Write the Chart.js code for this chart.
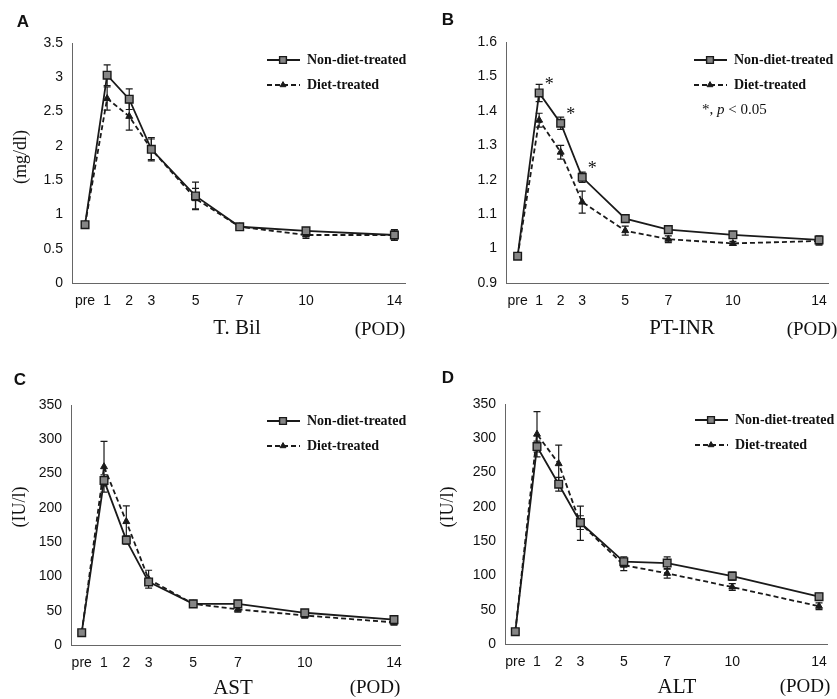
<!DOCTYPE html>
<html>
<head>
<meta charset="utf-8">
<script src="https://cdn.jsdelivr.net/npm/chart.js@4.4.0/dist/chart.umd.min.js"></script>
<style>
  body { margin: 0; background: #fff; }
  #wrap { position: relative; width: 837px; height: 699px; }
  canvas { position: absolute; }
</style>
</head>
<body>
<div id="wrap">
  <canvas id="chartA" width="418" height="349" style="left:0;top:0"></canvas>
  <canvas id="chartB" width="417" height="349" style="left:420px;top:0"></canvas>
  <canvas id="chartC" width="418" height="349" style="left:0;top:350px"></canvas>
  <canvas id="chartD" width="417" height="349" style="left:420px;top:350px"></canvas>
</div>
<script>
// post-operative days, "pre" sits at 0
const days = [0, 1, 2, 3, 5, 7, 10, 14];
const dayLabels = ['pre', '1', '2', '3', '5', '7', '10', '14'];

// A: T. Bil (mg/dl)
const tbilNon = [0.85, 3.03, 2.68, 1.95, 1.27, 0.82, 0.76, 0.70];
const tbilNonErr = [0.04, 0.15, 0.15, 0.17, 0.20, 0.04, 0.04, 0.08];
const tbilDiet = [0.85, 2.69, 2.43, 1.95, 1.23, 0.82, 0.70, 0.70];
const tbilDietErr = [0.04, 0.17, 0.20, 0.15, 0.15, 0.03, 0.05, 0.06];
const tbilTicks = [0, 0.5, 1, 1.5, 2, 2.5, 3, 3.5];

// B: PT-INR
const inrNon = [0.978, 1.452, 1.364, 1.207, 1.087, 1.055, 1.040, 1.025];
const inrNonErr = [0.008, 0.025, 0.018, 0.015, 0.010, 0.008, 0.008, 0.012];
const inrDiet = [0.978, 1.373, 1.280, 1.135, 1.052, 1.027, 1.015, 1.022];
const inrDietErr = [0.008, 0.020, 0.020, 0.032, 0.013, 0.010, 0.006, 0.012];
const inrTicks = [0.9, 1, 1.1, 1.2, 1.3, 1.4, 1.5, 1.6];
const inrStars = [1, 2, 3];

// C: AST (IU/l)
const astNon = [18, 240, 153, 92, 60, 60, 47, 37];
const astNonErr = [3, 8, 6, 5, 4, 5, 4, 4];
const astDiet = [18, 260, 180, 96, 60, 52, 43, 33];
const astDietErr = [3, 37, 23, 13, 5, 4, 4, 4];

// D: ALT (IU/l)
const altNon = [18, 288, 233, 177, 120, 118, 99, 69];
const altNonErr = [3, 8, 10, 10, 7, 9, 6, 5];
const altDiet = [18, 306, 263, 176, 115, 103, 83, 55];
const altDietErr = [3, 33, 27, 25, 8, 7, 5, 5];
const iuTicks = [0, 50, 100, 150, 200, 250, 300, 350];

Chart.defaults.font.family = '"Liberation Sans", Arial, sans-serif';
Chart.defaults.color = '#111';

const SERIF = '"Liberation Serif", "Times New Roman", serif';

// error bars, legend, titles, letters
const decor = {
  id: 'decor',
  beforeDatasetsDraw(chart, args, o) {
    const ctx = chart.ctx, xs = chart.scales.x, ys = chart.scales.y;
    ctx.save();
    ctx.strokeStyle = '#1a1a1a';
    ctx.lineWidth = 1.2;
    chart.data.datasets.forEach(ds => {
      ds.data.forEach((p, i) => {
        const e = ds.err[i];
        const px = xs.getPixelForValue(p.x);
        const top = ys.getPixelForValue(p.y + e);
        const bot = ys.getPixelForValue(p.y - e);
        ctx.beginPath();
        ctx.moveTo(px, top); ctx.lineTo(px, bot);
        ctx.moveTo(px - 3.5, top); ctx.lineTo(px + 3.5, top);
        ctx.moveTo(px - 3.5, bot); ctx.lineTo(px + 3.5, bot);
        ctx.stroke();
      });
    });
    ctx.restore();
  },
  afterDraw(chart, args, o) {
    const ctx = chart.ctx;
    ctx.save();
    ctx.fillStyle = '#111';
    ctx.textAlign = 'center';
    ctx.textBaseline = 'middle';

    ctx.font = 'bold 17px "Liberation Sans", Arial, sans-serif';
    ctx.fillText(o.letter, o.letterX, o.letterY);

    if (o.yTitle) {
      ctx.save();
      ctx.translate(o.yTitleX, o.yTitleY);
      ctx.rotate(-Math.PI / 2);
      ctx.font = '18px ' + SERIF;
      ctx.fillText(o.yTitle, 0, 0);
      ctx.restore();
    }

    ctx.font = '21px ' + SERIF;
    ctx.fillText(o.xTitle, o.xTitleX, o.xTitleY);
    ctx.font = '19px ' + SERIF;
    ctx.fillText('(POD)', o.podX, o.podY);

    // legend
    chart.data.datasets.forEach((ds, i) => {
      const x = o.legendX, y = o.legendY + i * 25;
      ctx.beginPath();
      ctx.setLineDash(ds.borderDash || []);
      ctx.strokeStyle = ds.borderColor;
      ctx.lineWidth = ds.borderWidth;
      ctx.moveTo(x, y); ctx.lineTo(x + 33, y);
      ctx.stroke();
      ctx.setLineDash([]);
      ctx.fillStyle = ds.pointBackgroundColor;
      ctx.strokeStyle = ds.pointBorderColor;
      ctx.lineWidth = ds.pointBorderWidth;
      Chart.helpers.drawPoint(ctx, {
        pointStyle: ds.pointStyle, radius: ds.pointRadius - 0.6,
        rotation: 0, borderWidth: ds.pointBorderWidth
      }, x + 16, y);
      ctx.fillStyle = '#111';
      ctx.textAlign = 'left';
      ctx.font = 'bold 14px ' + SERIF;
      ctx.fillText(ds.label, x + 40, y);
    });

    // significance marks
    if (o.stars) {
      const pts = chart.getDatasetMeta(0).data;
      ctx.font = '18px ' + SERIF;
      ctx.textAlign = 'center';
      o.stars.forEach(i => {
        ctx.fillText('*', pts[i].x + 10, pts[i].y - 8);
      });
    }
    if (o.note) {
      ctx.textAlign = 'left';
      let x = o.noteX;
      ctx.font = '15px ' + SERIF;
      ctx.fillText('*, ', x, o.noteY);
      x += ctx.measureText('*, ').width;
      ctx.font = 'italic 15px ' + SERIF;
      ctx.fillText('p', x, o.noteY);
      x += ctx.measureText('p').width;
      ctx.font = '15px ' + SERIF;
      ctx.fillText(' < 0.05', x, o.noteY);
    }
    ctx.restore();
  }
};

function makePanel(id, non, nonErr, diet, dietErr, yTicks, deco) {
  const toXY = arr => arr.map((v, i) => ({ x: days[i], y: v }));
  const axisBorder = { display: true, color: '#666', width: 1, dash: [1, 2] };
  return new Chart(document.getElementById(id), {
    type: 'line',
    data: {
      datasets: [
        {
          label: 'Non-diet-treated',
          data: toXY(non),
          err: nonErr,
          borderColor: '#1a1a1a',
          borderWidth: 1.8,
          pointStyle: 'rect',
          pointRadius: 5.4,
          pointBackgroundColor: '#858585',
          pointBorderColor: '#1a1a1a',
          pointBorderWidth: 1.4
        },
        {
          label: 'Diet-treated',
          data: toXY(diet),
          err: dietErr,
          borderColor: '#1a1a1a',
          borderDash: [5, 3],
          borderWidth: 1.8,
          pointStyle: 'triangle',
          pointRadius: 4,
          pointBackgroundColor: '#1a1a1a',
          pointBorderColor: '#1a1a1a',
          pointBorderWidth: 1
        }
      ]
    },
    options: {
      responsive: false,
      animation: false,
      layout: { padding: { top: deco.top, right: deco.right, bottom: 0, left: 0 } },
      plugins: { legend: { display: false }, tooltip: { enabled: false }, decor: deco },
      scales: {
        x: {
          type: 'linear',
          min: deco.xMin,
          max: deco.xMax,
          afterBuildTicks: s => { s.ticks = days.map(v => ({ value: v })); },
          afterFit: s => { s.height = deco.bottomH; },
          grid: { drawOnChartArea: false, drawTicks: false },
          border: axisBorder,
          ticks: {
            padding: 10,
            autoSkip: false,
            maxRotation: 0,
            font: { size: 14 },
            callback: (v, i) => dayLabels[i]
          }
        },
        y: {
          min: yTicks[0],
          max: yTicks[yTicks.length - 1],
          afterBuildTicks: s => { s.ticks = yTicks.map(v => ({ value: v })); },
          afterFit: s => { s.width = deco.leftW; },
          grid: { drawOnChartArea: false, drawTicks: false },
          border: axisBorder,
          ticks: {
            padding: 9,
            autoSkip: false,
            font: { size: 14 },
            callback: (v, i) => String(yTicks[i])
          }
        }
      }
    },
    plugins: [decor]
  });
}

makePanel('chartA', tbilNon, tbilNonErr, tbilDiet, tbilDietErr, tbilTicks, {
  leftW: 72, top: 43, right: 13, bottomH: 66, xMin: -0.59, xMax: 14.48,
  letter: 'A', letterX: 23, letterY: 22,
  yTitle: '(mg/dl)', yTitleX: 21, yTitleY: 157,
  xTitle: 'T. Bil', xTitleX: 237, xTitleY: 328, podX: 380, podY: 330,
  legendX: 267, legendY: 60
});

makePanel('chartB', inrNon, inrNonErr, inrDiet, inrDietErr, inrTicks, {
  leftW: 86, top: 42, right: 0, bottomH: 66, xMin: -0.54, xMax: 14.43,
  letter: 'B', letterX: 28, letterY: 20,
  xTitle: 'PT-INR', xTitleX: 262, xTitleY: 328, podX: 392, podY: 330,
  legendX: 274, legendY: 60,
  stars: inrStars, note: true, noteX: 282, noteY: 110
});

makePanel('chartC', astNon, astNonErr, astDiet, astDietErr, iuTicks, {
  leftW: 71, top: 55, right: 18, bottomH: 54, xMin: -0.48, xMax: 14.27,
  letter: 'C', letterX: 20, letterY: 30,
  yTitle: '(IU/l)', yTitleX: 20, yTitleY: 157,
  xTitle: 'AST', xTitleX: 233, xTitleY: 338, podX: 375, podY: 338,
  legendX: 267, legendY: 71
});

makePanel('chartD', altNon, altNonErr, altDiet, altDietErr, iuTicks, {
  leftW: 85, top: 54, right: 4, bottomH: 55, xMin: -0.475, xMax: 14.37,
  letter: 'D', letterX: 28, letterY: 28,
  yTitle: '(IU/l)', yTitleX: 28, yTitleY: 157,
  xTitle: 'ALT', xTitleX: 257, xTitleY: 337, podX: 385, podY: 337,
  legendX: 275, legendY: 70
});
</script>
</body>
</html>
